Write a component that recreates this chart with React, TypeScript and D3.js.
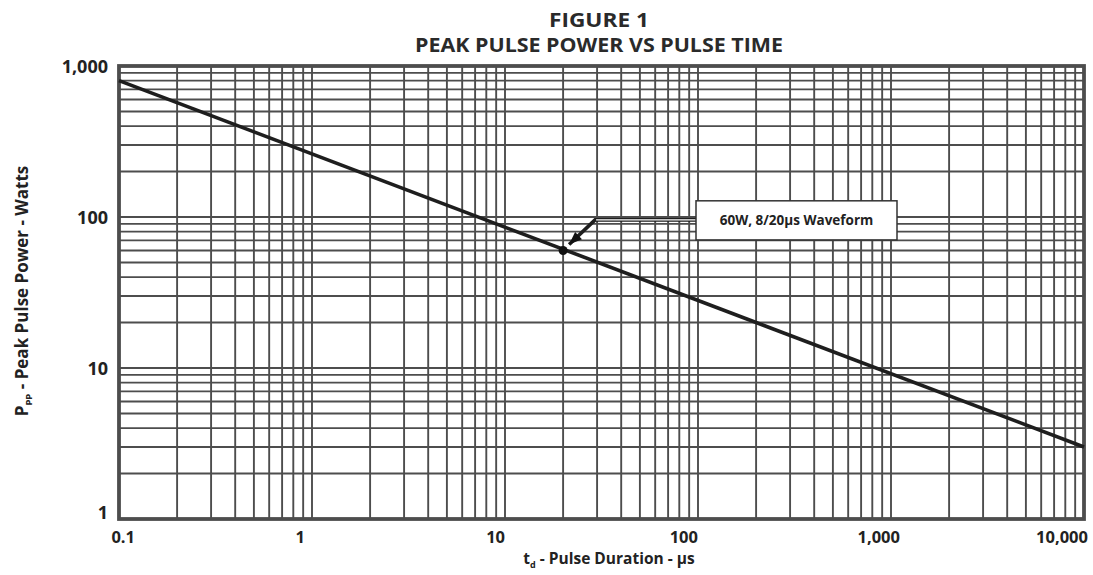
import React from "react";
import * as d3 from "d3";

const xTickValues = [0.1, 1, 10, 100, 1000, 10000];
const xTickLabels = ["0.1", "1", "10", "100", "1,000", "10,000"];
const yTickValues = [1, 10, 100, 1000];
const yTickLabels = ["1", "10", "100", "1,000"];
const curveDuration = [0.1, 10000]; // µs
const curvePower = [800, 3]; // W
const markerDuration = [20];
const markerPower = [60];
const annotationText = ["60W, 8/20µs Waveform"];
const titleLines = ["FIGURE 1", "PEAK PULSE POWER VS PULSE TIME"];

const W = 1093;
const H = 575;
const L = 119, R = 1084, T = 66, B = 519;
const FONT = "'Open Sans', 'Liberation Sans', sans-serif";
const GRID = "#4d4d4d";

export default function App() {
  const x = d3.scaleLog().domain([0.1, 10000]).range([L, R]);
  const y = d3.scaleLog().domain([1, 1000]).range([B, T]);

  const xMinor: number[] = [];
  for (let e = -1; e < 4; e++) for (let m = 2; m <= 9; m++) xMinor.push(m * Math.pow(10, e));
  const yMinor: number[] = [];
  for (let e = 0; e < 3; e++) for (let m = 2; m <= 9; m++) yMinor.push(m * Math.pow(10, e));

  const line = d3
    .line<number>()
    .x((_, i) => x(curveDuration[i]))
    .y((_, i) => y(curvePower[i]));

  const mx = x(markerDuration[0]);
  const my = y(markerPower[0]);
  // annotation box
  const bx0 = x(100) - 2;
  const bx1 = x(1000) + 6;
  const by0 = y(128);
  const by1 = y(70.5);
  const leadY = (by0 + by1) / 2 - 0.5;
  const elbowX = mx + 32;
  const tipX = mx + 6;
  const tipY = my - 6;
  const ang = Math.atan2(tipY - leadY, tipX - elbowX);
  const ah = 13, aw = 5;
  const ax = tipX - ah * Math.cos(ang), ay = tipY - ah * Math.sin(ang);
  const arrow = [
    [tipX, tipY],
    [ax + aw * Math.sin(ang), ay - aw * Math.cos(ang)],
    [ax - aw * Math.sin(ang), ay + aw * Math.cos(ang)],
  ];

  const xdx = [16, -7, 0, 0, 9, 4];

  return (
    <svg width={W} height={H} style={{ position: "absolute", left: 0, top: 0, background: "#fff" }} fontFamily={FONT}>
      <rect x={0} y={0} width={W} height={H} fill="#fff" />
      {/* grid */}
      {xMinor.concat(xTickValues).map((v, i) => (
        <line key={"xg" + i} x1={x(v)} x2={x(v)} y1={T} y2={B} stroke={GRID} strokeWidth={1.9} />
      ))}
      {yMinor.concat(yTickValues).map((v, i) => (
        <line key={"yg" + i} x1={L} x2={R} y1={y(v)} y2={y(v)} stroke={GRID} strokeWidth={1.9} />
      ))}
      <rect x={L} y={T} width={R - L} height={B - T} fill="none" stroke={GRID} strokeWidth={3.8} />
      {/* curve */}
      <path d={line(curveDuration) || ""} fill="none" stroke="#1e1e1e" strokeWidth={3.6} />
      <circle cx={mx} cy={my} r={4.5} fill="#111" />
      {/* annotation */}
      <path d={`M${bx0},${leadY}H${elbowX}L${tipX},${tipY}`} fill="none" stroke="#1e1e1e" strokeWidth={3.6} />
      <line x1={bx0} x2={elbowX + 1} y1={leadY} y2={leadY} stroke="#fff" strokeWidth={1.2} />
      <polygon points={arrow.map((p) => p.join(",")).join(" ")} fill="#111" />
      <rect x={bx0} y={by0} width={bx1 - bx0} height={by1 - by0} fill="#fff" stroke="#333" strokeWidth={1.5} />
      <text x={(bx0 + bx1) / 2} y={(by0 + by1) / 2 + 5} textAnchor="middle" fontSize={13.5} fontWeight="bold" fill="#222">
        {annotationText[0]}
      </text>
      {/* titles */}
      <text x={599} y={27} textAnchor="middle" fontSize={19} fontWeight="bold" fill="#2a2a2a" textLength={100} lengthAdjust="spacingAndGlyphs">
        {titleLines[0]}
      </text>
      <text x={599} y={52} textAnchor="middle" fontSize={19} fontWeight="bold" fill="#2a2a2a" textLength={368} lengthAdjust="spacingAndGlyphs">
        {titleLines[1]}
      </text>
      {/* x ticks */}
      {xTickValues.map((v, i) => (
        <text key={"xt" + i} x={x(v) + xdx[i]} y={543} textAnchor="end" fontSize={16.5} fontWeight="bold" fill="#222">
          {xTickLabels[i]}
        </text>
      ))}
      {/* y ticks */}
      {yTickValues.map((v, i) => (
        <text key={"yt" + i} x={108} y={y(v) + (i === 0 ? 0 : 7)} textAnchor="end" fontSize={18} fontWeight="bold" fill="#222">
          {yTickLabels[i]}
        </text>
      ))}
      {/* x title */}
      <text x={609} y={564} textAnchor="middle" fontSize={15.5} fontWeight="bold" fill="#222">
        <tspan>t</tspan>
        <tspan fontSize={9} dy={4}>d</tspan>
        <tspan dy={-4}> - Pulse Duration - µs</tspan>
      </text>
      {/* y title */}
      <text transform={`translate(28,291) rotate(-90)`} textAnchor="middle" fontSize={17} fontWeight="bold" fill="#222">
        <tspan>P</tspan>
        <tspan fontSize={9.5} dy={4}>PP</tspan>
        <tspan dy={-4}> - Peak Pulse Power - Watts</tspan>
      </text>
    </svg>
  );
}
